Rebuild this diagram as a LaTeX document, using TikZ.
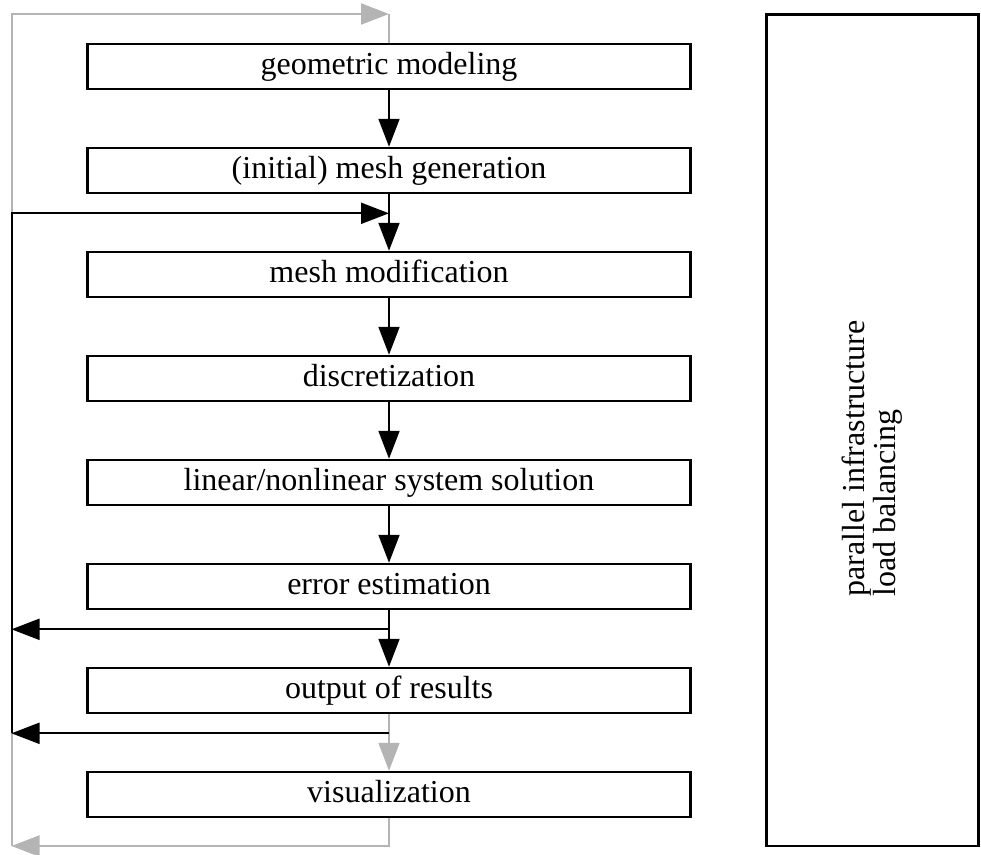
\documentclass[tikz,border=0pt]{standalone}
\usepackage{fontspec}
\setmainfont{Liberation Serif}
\usetikzlibrary{arrows.meta}
\definecolor{lightline}{RGB}{180,180,180}
\begin{document}
\begin{tikzpicture}[x=1pt,y=-1pt,
  stage/.style={draw, line width=2.5pt, minimum width=603pt, minimum height=45pt,
    inner sep=0pt, text height=22pt, text depth=7pt,
    font=\fontsize{32}{36}\selectfont},
  tip/.style={-{Triangle[length=28pt,width=21pt]}},
  flow/.style={line width=2pt, tip},
  back/.style={line width=2pt, draw=lightline},
]
\useasboundingbox (0,0) rectangle (981,854);

% process stages
\node[stage] (geo)   at (389,66.5)  {geometric modeling};
\node[stage] (mesh)  at (389,170.5) {(initial) mesh generation};
\node[stage] (mod)   at (389,274.5) {mesh modification};
\node[stage] (disc)  at (389,378.5) {discretization};
\node[stage] (solve) at (389,482.5) {linear/nonlinear system solution};
\node[stage] (err)   at (389,586.5) {error estimation};
\node[stage] (out)   at (389,690.5) {output of results};
\node[stage] (vis)   at (389,794.5) {visualization};

% junction points of the feedback loops
\coordinate (joinin)  at (389,213.3);
\coordinate (tapErr)  at (389,629.3);
\coordinate (leftErr) at (11.5,629.3);
\coordinate (tapOut)  at (389,733.3);
\coordinate (leftOut) at (11.5,733.3);
\coordinate (loopbot) at (11.5,846);
\coordinate (looptop) at (389,14);

% outer (grey) loop: visualization back to geometric modeling
\draw[back, tip] (vis.south) |- (loopbot);
\draw[back, tip] (loopbot) |- (looptop);
\draw[back] (looptop) -- (geo.north);

% main flow
\draw[flow] (geo) -- (mesh);
\draw[flow] (mesh) -- (mod);
\draw[flow] (mod) -- (disc);
\draw[flow] (disc) -- (solve);
\draw[flow] (solve) -- (err);
\draw[flow] (err) -- (out);
\draw[back, tip] (out) -- (vis);

% inner (black) adaptive loop
\draw[flow] (tapErr) -- (leftErr);
\draw[flow] (tapOut) -- (leftOut);
\draw[flow] (leftOut) |- (joinin);

% side panel
\draw[line width=2.8pt] (766.5,14.5) rectangle (978.5,846);
\node[rotate=90, align=left, inner sep=0pt,
      font=\fontsize{32}{31}\selectfont] (infratext) at (872,458.5)
  {parallel infrastructure\\load balancing};
\end{tikzpicture}
\end{document}
